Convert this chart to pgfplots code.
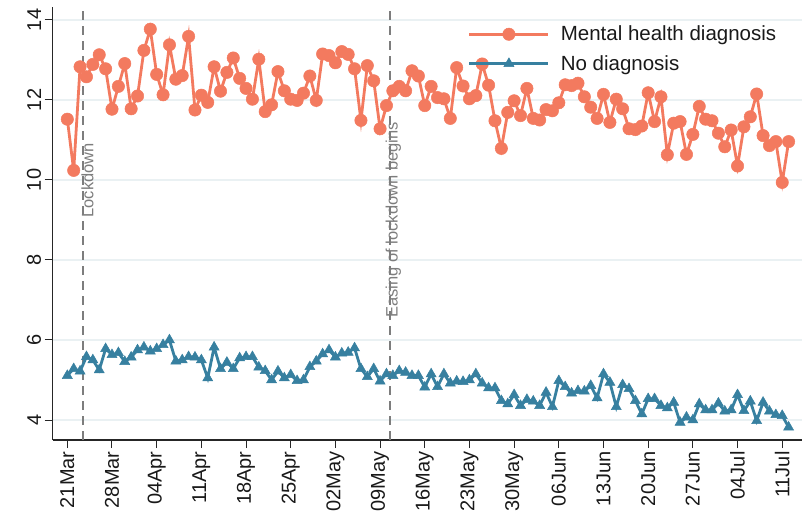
\documentclass[border=0pt]{standalone}
\usepackage{fontspec}
\setmainfont{Liberation Sans}
\usepackage{pgfplots}
\pgfplotsset{compat=1.18}
\usetikzlibrary{calc}
\definecolor{mhorange}{RGB}{243,122,95}
\definecolor{ndblue}{RGB}{55,128,160}
\definecolor{gridc}{RGB}{234,241,243}
\definecolor{refgray}{RGB}{125,125,125}
\pgfplotstableread{
d v
0 11.52
1 10.24
2 12.83
3 12.58
4 12.89
5 13.13
6 12.78
7 11.77
8 12.34
9 12.91
10 11.78
11 12.10
12 13.24
13 13.77
14 12.64
15 12.13
16 13.38
17 12.52
18 12.61
19 13.59
20 11.75
21 12.12
22 11.94
23 12.83
24 12.22
25 12.69
26 13.05
27 12.54
28 12.29
29 12.02
30 13.02
31 11.71
32 11.88
33 12.71
34 12.23
35 12.02
36 11.99
37 12.17
38 12.60
39 11.99
40 13.15
41 13.11
42 12.93
43 13.21
44 13.14
45 12.78
46 11.49
47 12.86
48 12.48
49 11.28
50 11.86
51 12.23
52 12.34
53 12.23
54 12.73
55 12.60
56 11.86
57 12.34
58 12.06
59 12.03
60 11.54
61 12.81
62 12.35
63 12.03
64 12.11
65 12.90
66 12.37
67 11.48
68 10.79
69 11.69
70 11.98
71 11.61
72 12.29
73 11.54
74 11.50
75 11.76
76 11.73
77 11.93
78 12.38
79 12.36
80 12.42
81 12.08
82 11.82
83 11.54
84 12.14
85 11.44
86 12.02
87 11.78
88 11.28
89 11.26
90 11.35
91 12.18
92 11.46
93 12.08
94 10.63
95 11.42
96 11.46
97 10.64
98 11.14
99 11.84
100 11.52
101 11.48
102 11.17
103 10.83
104 11.25
105 10.35
106 11.33
107 11.58
108 12.15
109 11.11
110 10.86
111 10.96
112 9.94
113 10.96
}\mhtable
\pgfplotstableread{
d v
0 5.11
1 5.28
2 5.22
3 5.58
4 5.50
5 5.25
6 5.78
7 5.63
8 5.68
9 5.46
10 5.57
11 5.75
12 5.82
13 5.72
14 5.78
15 5.88
16 6.00
17 5.47
18 5.50
19 5.58
20 5.57
21 5.50
22 5.05
23 5.82
24 5.28
25 5.44
26 5.28
27 5.55
28 5.58
29 5.58
30 5.32
31 5.23
32 5.00
33 5.22
34 5.05
35 5.13
36 4.98
37 5.00
38 5.33
39 5.47
40 5.65
41 5.75
42 5.57
43 5.67
44 5.69
45 5.80
46 5.28
47 5.08
48 5.28
49 4.97
50 5.15
51 5.11
52 5.23
53 5.19
54 5.11
55 5.11
56 4.82
57 5.15
58 4.83
59 5.15
60 4.92
61 4.97
62 4.96
63 5.00
64 5.15
65 4.92
66 4.80
67 4.80
68 4.48
69 4.40
70 4.63
71 4.36
72 4.51
73 4.47
74 4.36
75 4.69
76 4.33
77 4.98
78 4.83
79 4.67
80 4.73
81 4.72
82 4.86
83 4.55
84 5.15
85 4.94
86 4.33
87 4.88
88 4.78
89 4.48
90 4.15
91 4.53
92 4.53
93 4.36
94 4.30
95 4.44
96 3.94
97 4.07
98 4.00
99 4.40
100 4.25
101 4.25
102 4.42
103 4.22
104 4.25
105 4.63
106 4.23
107 4.47
108 3.98
109 4.44
110 4.22
111 4.13
112 4.11
113 3.82
}\ndtable
\begin{document}
\begin{tikzpicture}
\begin{axis}[
  scale only axis, width=749.3pt, height=433pt,
  xmin=-2.29, xmax=115.1, ymin=3.5, ymax=14.325,
  axis x line*=bottom, axis y line*=left,
  axis line style={black!85, line width=1.2pt},
  xtick={0,7,...,112},
  xticklabels={21Mar,28Mar,04Apr,11Apr,18Apr,25Apr,02May,09May,16May,23May,30May,06Jun,13Jun,20Jun,27Jun,04Jul,11Jul},
  ytick={4,6,...,14},
  tick align=outside, major tick length=8pt,
  tick style={black!85, line width=1pt},
  ymajorgrids, grid style={gridc, line width=1.5pt},
  /pgf/number format/assume math mode=true,
  x tick label style={rotate=90, anchor=east, font=\fontsize{20}{22}\selectfont, text=black!90},
  y tick label style={rotate=90, anchor=south, font=\fontsize{20}{22}\selectfont, text=black!90},
  clip=false,
  legend cell align=left,
  legend style={at={(axis description cs:0.554,0.961)}, anchor=north west, draw=none, fill=none, inner sep=0pt, row sep=9pt,
    font=\fontsize{20.5}{24}\selectfont, text=black!90},
  legend image code/.code={\draw[#1, mark repeat=2, mark phase=2] plot coordinates {(0pt,0pt) (39.5pt,0pt) (79pt,0pt)}; \path (88pt,0pt);},
]
\addplot[refgray, line width=1.8pt, dash pattern=on 9pt off 6pt, forget plot] coordinates {(2.5,3.5) (2.5,14.325)};
\addplot[refgray, line width=1.8pt, dash pattern=on 9pt off 6pt, forget plot] coordinates {(50.5,3.5) (50.5,14.325)};
\node[rotate=90, text=refgray, font=\fontsize{16.5}{18}\selectfont, inner sep=0pt] at (axis cs:3.16,9.99) {Lockdown};
\node[rotate=90, text=refgray, font=\fontsize{16.5}{18}\selectfont, inner sep=0pt] at (axis cs:51.07,9.0) {Easing of lockdown begins};
\addplot[mhorange, line width=2.8pt, mark=*, mark size=6.2pt, mark options={solid, fill=mhorange, draw=mhorange, line width=0.5pt}] table[x=d, y=v] {\mhtable};
\addlegendentry{Mental health diagnosis}
\addplot[ndblue, line width=2.8pt, mark=triangle*, mark size=5.8pt, mark options={solid, fill=ndblue, draw=ndblue, line width=0.5pt}] table[x=d, y=v] {\ndtable};
\addlegendentry{No diagnosis}
\end{axis}
\pgfresetboundingbox
\path[use as bounding box] ($(current axis.south west)+(-52.7pt,-76pt)$) rectangle ($(current axis.north east)+(5pt,7pt)$);
\end{tikzpicture}
\end{document}
